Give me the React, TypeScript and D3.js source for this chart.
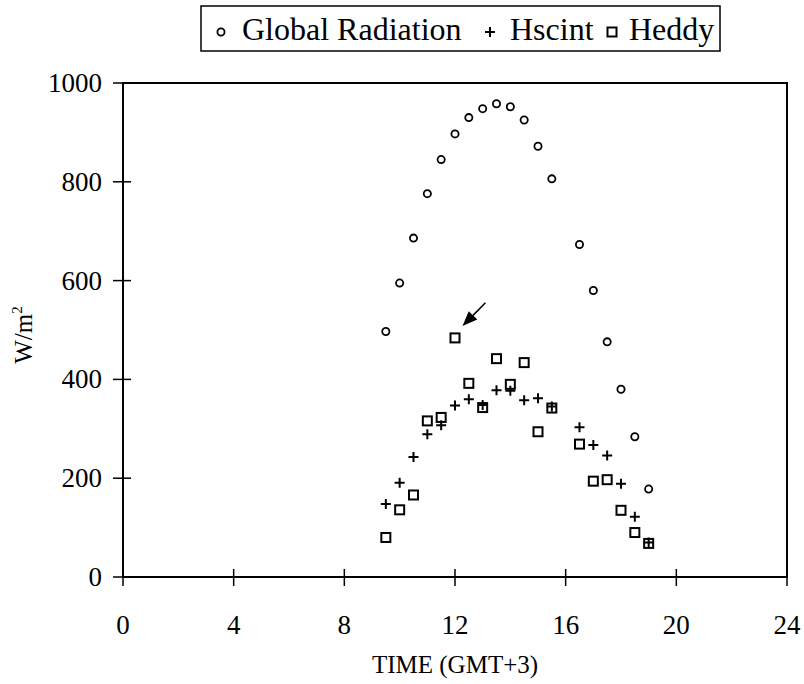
import React from "react";
import * as d3 from "d3";

const times = [9.5, 10, 10.5, 11, 11.5, 12, 12.5, 13, 13.5, 14, 14.5, 15, 15.5, 16.5, 17, 17.5, 18, 18.5, 19];
const globalRadiation = [497, 595, 686, 776, 845, 897, 930, 948, 958, 952, 925, 872, 806, 673, 580, 476, 380, 284, 178];
const hscint = [148, 191, 243, 289, 307, 347, 360, 348, 378, 377, 358, 362, 345, 303, 267, 246, 189, 122, 70];
const heddy = [80, 136, 166, 316, 323, 484, 392, 343, 442, 390, 434, 294, 342, 269, 194, 197, 135, 90, 68];
const xTicks = [0, 4, 8, 12, 16, 20, 24];
const yTicks = [0, 200, 400, 600, 800, 1000];
const arrowFrom = { t: 13.1, v: 555 };
const arrowTo = { t: 12.27, v: 508 };

const W = 804, H = 684;
const left = 123, right = 787, top = 83, bottom = 577;
const FONT = "Liberation Serif, Times New Roman, serif";

export default function App() {
  const x = d3.scaleLinear().domain([0, 24]).range([left, right]);
  const y = d3.scaleLinear().domain([0, 1000]).range([bottom, top]);

  const circ = (cx: number, cy: number, k: string) => (
    <circle key={k} cx={cx} cy={cy} r={3.6} fill="white" stroke="black" strokeWidth={1.8} />
  );
  const plus = (cx: number, cy: number, k: string) => (
    <path key={k} d={`M${cx - 5},${cy}H${cx + 5}M${cx},${cy - 5}V${cy + 5}`} stroke="black" strokeWidth={2} fill="none" />
  );
  const sq = (cx: number, cy: number, k: string) => (
    <rect key={k} x={cx - 4.5} y={cy - 4.5} width={9} height={9} fill="none" stroke="black" strokeWidth={2} />
  );

  const ax1 = x(arrowFrom.t), ay1 = y(arrowFrom.v), ax2 = x(arrowTo.t), ay2 = y(arrowTo.v);
  const ang = Math.atan2(ay2 - ay1, ax2 - ax1);
  const hl = 15, hw = 6;
  const bx = ax2 - hl * Math.cos(ang), by = ay2 - hl * Math.sin(ang);
  const head = `M${ax2},${ay2}L${bx + hw * Math.sin(ang)},${by - hw * Math.cos(ang)}L${bx - hw * Math.sin(ang)},${by + hw * Math.cos(ang)}Z`;

  const ts = { fontFamily: FONT };

  return (
    <svg width={W} height={H} style={{ position: "absolute", left: 0, top: 0, background: "white" }}>
      <rect x={0} y={0} width={W} height={H} fill="white" />
      {/* legend */}
      <rect x={201} y={6} width={519} height={45} fill="white" stroke="black" strokeWidth={1.5} />
      {circ(221, 32, "lc")}
      <text x={242} y={40} fontSize={32} style={ts}>Global Radiation</text>
      {plus(490, 32, "lp")}
      <text x={510} y={40} fontSize={32} style={ts}>Hscint</text>
      {sq(612, 32, "ls")}
      <text x={629} y={40} fontSize={32} style={ts}>Heddy</text>

      {/* frame */}
      <rect x={left} y={top} width={right - left} height={bottom - top} fill="none" stroke="black" strokeWidth={2} />
      {xTicks.map((t) => (
        <g key={"x" + t}>
          <line x1={x(t)} x2={x(t)} y1={bottom - 8} y2={bottom + 9} stroke="black" strokeWidth={1.5} />
          <text x={x(t)} y={634} fontSize={27} textAnchor="middle" style={ts}>{t}</text>
        </g>
      ))}
      {yTicks.map((v) => (
        <g key={"y" + v}>
          <line x1={left - 10} x2={left + 8} y1={y(v)} y2={y(v)} stroke="black" strokeWidth={1.5} />
          <text x={left - 21} y={y(v) + 9} fontSize={27} textAnchor="end" style={ts}>{v}</text>
        </g>
      ))}
      <text x={(left + right) / 2} y={673} fontSize={25} textAnchor="middle" style={ts}>TIME (GMT+3)</text>
      <text transform={`translate(32,${335}) rotate(-90)`} fontSize={25} textAnchor="middle" style={ts}>
        W/m<tspan dy={-10} fontSize={15}>2</tspan>
      </text>

      {/* data */}
      {times.map((t, i) => circ(x(t), y(globalRadiation[i]), "g" + i))}
      {times.map((t, i) => sq(x(t), y(heddy[i]), "h" + i))}
      {times.map((t, i) => plus(x(t), y(hscint[i]), "s" + i))}

      {/* arrow */}
      <line x1={ax1} y1={ay1} x2={bx} y2={by} stroke="black" strokeWidth={1.5} />
      <path d={head} fill="black" />
    </svg>
  );
}
